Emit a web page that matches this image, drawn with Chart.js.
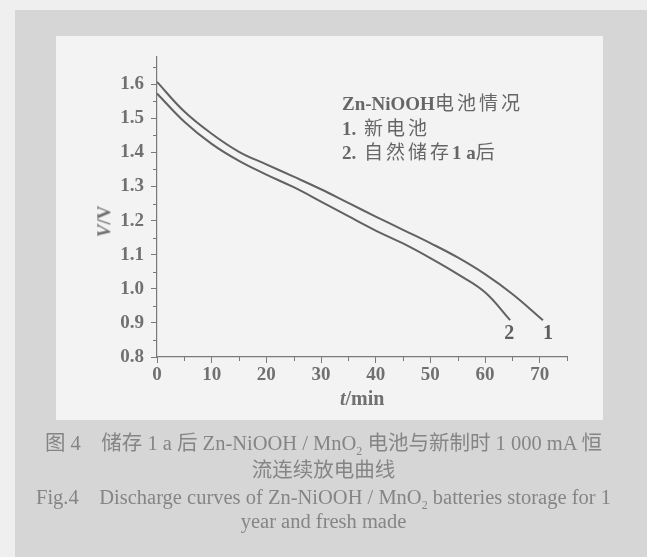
<!DOCTYPE html>
<html><head><meta charset="utf-8">
<script src="https://cdn.jsdelivr.net/npm/chart.js@4"></script>
<style>
html,body{margin:0;padding:0;width:647px;height:557px;overflow:hidden;background:#efefef;}
#frame{position:absolute;left:15px;top:10px;width:632px;height:547px;background:#d6d6d6;}
#panel{position:absolute;left:56px;top:36px;width:547px;height:384px;background:#f3f3f3;}
#wrap{position:absolute;left:0;top:0;width:647px;height:557px;}
.t{position:absolute;color:#6e6e6e;white-space:nowrap;line-height:1;}
.leg{font-family:"Liberation Serif","Noto Sans CJK SC",serif;font-size:19px;left:342px;color:#666;letter-spacing:3px;}
.leg b{font-family:"Liberation Serif",serif;letter-spacing:0;}
.cap{font-family:"Liberation Serif","Noto Sans CJK SC",serif;font-size:20.5px;color:#858585;width:647px;text-align:center;left:0;}
</style></head>
<body>
<div id="frame"></div>
<div id="panel"></div>
<div id="wrap"><canvas id="c" width="647" height="557"></canvas></div>
<div class="t leg" style="top:94px"><b>Zn-NiOOH</b>电池情况</div>
<div class="t leg" style="top:119px"><b>1.</b> 新电池</div>
<div class="t leg" style="top:143px"><b>2.</b> 自然储存<b>1 a</b>后</div>
<div class="t" style="left:88px;top:212px;transform:rotate(-90deg);transform-origin:center;font-family:'Liberation Serif',serif;font-size:19px;font-weight:bold;color:#707070;"><i>V</i>/V</div>
<div class="t" style="left:340px;top:388px;font-family:'Liberation Serif',serif;font-size:20px;font-weight:bold;color:#707070;"><i>t</i>/min</div>
<div class="t cap" style="top:433px">图 4　储存 1 a 后 Zn-NiOOH / MnO<sub style="font-size:12px">2</sub> 电池与新制时 1 000 mA 恒</div>
<div class="t cap" style="top:460px">流连续放电曲线</div>
<div class="t cap" style="top:487px">Fig.4　Discharge curves of Zn-NiOOH / MnO<sub style="font-size:12px">2</sub> batteries storage for 1</div>
<div class="t cap" style="top:511px">year and fresh made</div>
<script>
const timeFresh = [0,5,10,15,20,25,30,35,40,45,50,55,60,65,70.6];
const voltFresh = [1.607,1.52,1.455,1.402,1.365,1.329,1.292,1.252,1.212,1.173,1.134,1.092,1.043,0.985,0.908];
const timeStored = [0,5,10,15,20,25,30,35,40,45,50,55,60,64.6];
const voltStored = [1.573,1.49,1.425,1.375,1.335,1.298,1.256,1.213,1.171,1.133,1.09,1.043,0.99,0.908];
const seriesLabels = ['1','2'];
const xTicks = [0,10,20,30,40,50,60,70];
const yTicks = [0.8,0.9,1.0,1.1,1.2,1.3,1.4,1.5,1.6];

const lineColor = '#626262';
const axisColor = '#7a7a7a';

const pts = (xs, ys) => xs.map((x,i)=>({x:x,y:ys[i]}));

const extras = {
  id:'extras',
  afterDraw(chart){
    const ctx = chart.ctx, xs = chart.scales.x, ys = chart.scales.y;
    ctx.save();
    ctx.strokeStyle = axisColor; ctx.lineWidth = 1;
    for (let v = 0.85; v < 1.68; v += 0.1){
      const py = Math.round(ys.getPixelForValue(v))+0.5;
      ctx.beginPath(); ctx.moveTo(xs.left-4, py); ctx.lineTo(xs.left, py); ctx.stroke();
    }
    for (let v = 5; v <= 75; v += 10){
      const px = Math.round(xs.getPixelForValue(v))+0.5;
      ctx.beginPath(); ctx.moveTo(px, ys.bottom); ctx.lineTo(px, ys.bottom+4); ctx.stroke();
    }
    ctx.fillStyle = '#5e5e5e';
    ctx.font = 'bold 20px "Liberation Serif", serif';
    ctx.textAlign = 'center'; ctx.textBaseline = 'middle';
    chart.data.datasets.forEach((ds,i)=>{
      const last = ds.data[ds.data.length-1];
      const px = xs.getPixelForValue(last.x) + (i===0?5:-1);
      const py = ys.getPixelForValue(last.y) + 14;
      ctx.fillText(seriesLabels[i], px, py);
    });
    ctx.restore();
  }
};

new Chart(document.getElementById('c'), {
  type:'line',
  data:{datasets:[
    {label:seriesLabels[0], data:pts(timeFresh,voltFresh), borderColor:lineColor, borderWidth:2, pointRadius:0, tension:0.4, fill:false},
    {label:seriesLabels[1], data:pts(timeStored,voltStored), borderColor:lineColor, borderWidth:2, pointRadius:0, tension:0.4, fill:false}
  ]},
  options:{
    responsive:false, animation:false, devicePixelRatio:1,
    layout:{padding:{left:97,right:80,top:57,bottom:150}},
    plugins:{legend:{display:false}, tooltip:{enabled:false}},
    scales:{
      x:{type:'linear', min:0, max:75,
        afterFit(s){s.height=50;},
        afterBuildTicks(s){s.ticks = xTicks.map(v=>({value:v}));},
        border:{color:axisColor, width:1.2},
        grid:{drawOnChartArea:false, drawTicks:true, tickLength:6, color:axisColor},
        ticks:{color:'#707070', padding:1, font:{family:'"Liberation Serif", serif', size:19, weight:'bold'}, callback:v=>String(v), maxRotation:0}
      },
      y:{type:'linear', min:0.8, max:1.68,
        afterFit(s){s.width=60;},
        afterBuildTicks(s){s.ticks = yTicks.map(v=>({value:v}));},
        border:{color:axisColor, width:1.2},
        grid:{drawOnChartArea:false, drawTicks:true, tickLength:6, color:axisColor},
        ticks:{color:'#707070', padding:7, font:{family:'"Liberation Serif", serif', size:19, weight:'bold'}, callback:v=>Number(v).toFixed(1)}
      }
    }
  },
  plugins:[extras]
});
</script>
</body></html>
